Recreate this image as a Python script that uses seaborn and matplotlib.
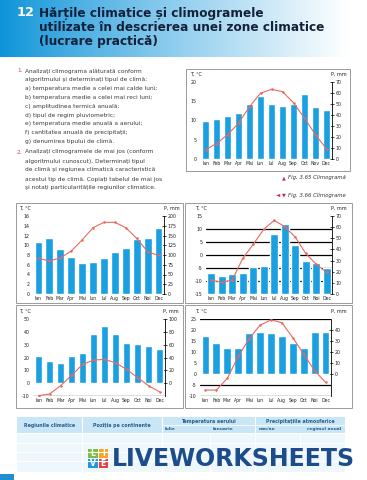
import numpy as np
import matplotlib
matplotlib.use("Agg")
import matplotlib.pyplot as plt
from matplotlib.patches import Rectangle
import seaborn as sns

sns.set_theme(style="white")
plt.rcParams['font.family'] = ['DejaVu Sans']

# ---------------- data ----------------
MONTHS_TOP = ["Ian", "Feb", "Mar", "Apr", "Mai", "Iun", "Iul", "Aug", "Sep", "Oct", "Nov", "Dec"]
MONTHS = ["Ian", "Feb", "Mar", "Apr", "Mai", "Iun", "Iul", "Aug", "Sep", "Oct", "Noi", "Dec"]

TOP_P = [35, 36.5, 39, 41.5, 50, 57, 50, 48, 50, 59, 47, 44.5]
TOP_T = [2.4, 4, 6.3, 9.3, 13.6, 17.1, 18.1, 17.5, 14.6, 10.6, 6.3, 2.6]

A_P = [134, 143, 115, 94, 79, 82, 93, 107, 119, 140, 143, 168]
A_T = [7.3, 6.8, 7.4, 8.8, 11.1, 13.6, 14.7, 14.7, 13.6, 11.4, 8.7, 7.9]

B_P = [19, 16, 18, 19, 24.5, 25, 54, 62.5, 44, 30, 27.5, 23.5]
B_T = [-9.7, -10.5, -9.6, -1.3, 4.1, 9.9, 13.3, 10.9, 6.9, 0.6, -3.6, -6.7]

C_P = [43, 34, 31.5, 43, 47, 77, 89, 77, 62.5, 61, 57.5, 53]
C_T = [-9.7, -8.5, -2, 6, 14.6, 18, 18.5, 15.9, 10.8, 4.4, -2, -6.7]

D_P = [35, 28, 23.5, 23.5, 37.3, 38.5, 37.6, 35, 28, 23.5, 38.5, 38.5]
D_T = [-7.3, -7.3, -2, 8, 16, 22.2, 24.6, 23.3, 16.5, 9, 1.5, -3.8]

TITLE_LINES = ["Hărțile climatice și climogramele",
               "utilizate în descrierea unei zone climatice",
               "(lucrare practică)"]
TASK1 = ["Analizați climograma alăturată conform",
         "algoritmului și determinați tipul de climă:",
         "a) temperatura medie a celei mai calde luni;",
         "b) temperatura medie a celei mai reci luni;",
         "c) amplitudinea termică anuală;",
         "d) tipul de regim pluviometric;",
         "e) temperatura medie anuală a aerului;",
         "f) cantitatea anuală de precipitații;",
         "g) denumirea tipului de climă."]
TASK2 = ["Analizați climogramele de mai jos (conform",
         "algoritmului cunoscut). Determinați tipul",
         "de climă și regiunea climatică caracteristică",
         "acestui tip de climă. Copiați tabelul de mai jos",
         "și notați particularitățile regiunilor climatice."]

BLUE = "#1a9fe0"
RED = "#e8695f"
W, H = 367, 480

fig = plt.figure(figsize=(W / 100, H / 100), dpi=100)
fig.patch.set_facecolor("white")

# background / page overlay in pixel coordinates
bg = fig.add_axes([0, 0, 1, 1])
bg.set_zorder(0)
n = 400
xs = np.linspace(0, 1, n)
c0 = np.array([0.05, 0.58, 0.85])
c1 = np.array([1.0, 1.0, 1.0])
t = np.clip(xs / 0.95, 0, 1) ** 0.9
grad = (c0[None, :] * (1 - t[:, None]) + c1[None, :] * t[:, None])[None, :, :]
bg.imshow(grad, extent=(0, W, 57, 0), aspect="auto", zorder=0)
bg.set_xlim(0, W)
bg.set_ylim(H, 0)
bg.axis("off")

bg.text(17, 13, "12", fontsize=9.3, fontweight="bold", color="white", va="center")
for i, line in enumerate(TITLE_LINES):
    bg.text(39, 13 + i * 14.5, line, fontsize=8.7, fontweight="bold", color="#14213a",
            va="center")

# instructions
FS = 4.2
TXT = "#3a3a3a"
PINK = "#d9415a"
y = 71
bg.text(17, y, "1.", fontsize=FS, color=PINK, va="center")
for i, line in enumerate(TASK1):
    bg.text(25, y + i * 8.8, line, fontsize=FS, color=TXT, va="center")
y = 152
bg.text(17, y, "2.", fontsize=FS, color=PINK, va="center")
for i, line in enumerate(TASK2):
    bg.text(25, y + i * 9.0, line, fontsize=FS, color=TXT, va="center")

# captions
bg.text(286, 178, "▲", fontsize=3.6, color="#d0246a", va="center", ha="right")
bg.text(288, 178, "Fig. 3.65 Climogramă", fontsize=3.9, style="italic", color="#333",
        va="center")
bg.text(280, 195, "◄", fontsize=4.0, color="#d0246a", va="center", ha="right")
bg.text(286, 195, "▼", fontsize=3.6, color="#d0246a", va="center", ha="right")
bg.text(288, 195, "Fig. 3.66 Climograme", fontsize=3.9, style="italic", color="#333",
        va="center")

# frames
FRAME = "#8a8a8a"
for (x0, y0, x1, y1) in [(186, 69, 350, 171), (16, 203, 183, 303), (185, 203, 352, 303),
                         (16, 305, 183, 408), (185, 305, 352, 408)]:
    bg.add_patch(Rectangle((x0, y0), x1 - x0, y1 - y0, fill=False, ec=FRAME, lw=0.6))

# axis unit labels
for (xl, xr, yy) in [(190, 347, 74), (19, 180, 208), (195, 347, 208), (19, 179, 311),
                     (195, 347, 311)]:
    bg.text(xl, yy, "T, °C", fontsize=3.5, color="#222", va="center")
    bg.text(xr, yy, "P, mm", fontsize=3.5, color="#222", va="center", ha="right")

# table
TB = "#c9e6f6"
bg.add_patch(Rectangle((17, 417), 328, 16, color=TB, lw=0))
for xv in [82, 162, 255]:
    bg.plot([xv, xv], [417, 433], color="white", lw=0.8)
bg.plot([162, 345], [425, 425], color="white", lw=0.6)
bg.add_patch(Rectangle((17, 434), 328, 38, color="#eef7fc", lw=0))
for yv in [443, 452, 461]:
    bg.plot([17, 345], [yv, yv], color="white", lw=0.8)
for xv in [82, 162, 210, 255, 300]:
    bg.plot([xv, xv], [434, 472], color="white", lw=0.8)
HC = "#2a5f8f"
bg.text(50, 425, "Regiunile climatice", fontsize=3.4, color=HC, ha="center", va="center",
        fontweight="bold")
bg.text(122, 425, "Poziția pe continente", fontsize=3.4, color=HC, ha="center",
        va="center", fontweight="bold")
bg.text(208, 421, "Temperatura aerului", fontsize=3.4, color=HC, ha="center",
        va="center", fontweight="bold")
bg.text(300, 421, "Precipitațiile atmosferice", fontsize=3.4, color=HC, ha="center",
        va="center", fontweight="bold")
bg.text(165, 429, "Iulie", fontsize=3.2, color=HC, va="center", fontweight="bold")
bg.text(213, 429, "Ianuarie", fontsize=3.2, color=HC, va="center", fontweight="bold")
bg.text(259, 429, "mm/an", fontsize=3.2, color=HC, va="center", fontweight="bold")
bg.text(307, 429, "regimul anual", fontsize=3.2, color=HC, va="center", fontweight="bold")

# liveworksheets logo
sq = [("L", "#7dbb42", 88, 449), ("I", "#f5a623", 98.5, 449),
      ("V", "#1e9be0", 88, 458.5), ("E", "#e8413c", 98.5, 458.5)]
for ch, col, sx, sy in sq:
    bg.add_patch(Rectangle((sx, sy), 9.5, 9, color=col, lw=0))
    bg.text(sx + 4.75, sy + 4.6, ch, fontsize=5.5, color="white", ha="center",
            va="center", fontweight="bold")
bg.text(112, 458.5, "LIVEWORKSHEETS", fontsize=17, color="#1d4c8c", va="center",
        fontweight="bold")
bg.add_patch(Rectangle((0, 474), 14, 6, color="#1e8fd0", lw=0))


def climogram(px, months, P, T, t_lim, t_ticks, p_lim, p_ticks, grid_t=None, grid_p=None):
    x0, y0, x1, y1 = px
    rect = [x0 / W, 1 - y1 / H, (x1 - x0) / W, (y1 - y0) / H]
    ax = fig.add_axes(rect)
    sns.barplot(x=months, y=P, ax=ax, color=BLUE, saturation=1, width=0.72)
    ax.set_ylim(*p_lim)
    conv = lambda tv: p_lim[0] + (tv - t_lim[0]) * (p_lim[1] - p_lim[0]) / (t_lim[1] - t_lim[0])
    gl = [conv(v) for v in grid_t] if grid_t is not None else list(grid_p)
    ax.set_yticks(p_ticks)
    ax.set_yticklabels([str(v) for v in p_ticks])
    ax.set_yticks(gl, minor=True)
    ax.set_axisbelow(True)
    ax.grid(False)
    ax.yaxis.grid(True, which="minor", color="black", linewidth=0.9, linestyle="-")
    ax.tick_params(axis="x", length=0, pad=1.5, labelsize=3.3, colors="#222")
    for s in ["top", "left", "bottom"]:
        ax.spines[s].set_visible(False)
    ax.spines["right"].set_color("black")
    ax.spines["right"].set_linewidth(0.6)
    ax.set_xlabel("")
    ax.set_ylabel("")

    ax2 = ax.twinx()
    sns.lineplot(x=np.arange(len(T)), y=T, ax=ax2, color=RED, lw=0.8, marker="o",
                 markersize=1.8, markeredgewidth=0)
    ax2.set_ylim(*t_lim)
    ax2.set_yticks(t_ticks)
    ax2.set_yticklabels([str(v) for v in t_ticks])
    ax2.yaxis.tick_left()
    ax2.tick_params(axis="y", length=0, pad=2.5, labelsize=3.4, colors="#222")
    for s in ["top", "left", "bottom", "right"]:
        ax2.spines[s].set_visible(False)
    ax2.grid(False)
    ax2.set_ylabel("")
    ax.set_zorder(2)
    ax.patch.set_visible(False)
    ax2.set_zorder(3)
    # bar axis ticks to the right (after twinx, which resets them)
    ax.yaxis.tick_right()
    ax.tick_params(axis="y", which="major", left=False, labelleft=False, right=True,
                   labelright=True, length=2.5, direction="inout", width=0.6, pad=1.2,
                   labelsize=3.4, colors="#222")
    ax.tick_params(axis="y", which="minor", left=False, right=False, length=0)
    ax.set_xlim(-0.5, len(months) - 0.5)
    return ax, ax2


climogram((200, 82, 332, 159), MONTHS_TOP, TOP_P, TOP_T, (0, 20), [0, 5, 10, 15, 20],
          (0, 70), list(range(0, 71, 10)), grid_p=list(range(0, 71, 10)))
climogram((33, 216, 164, 294), MONTHS, A_P, A_T, (0, 16), list(range(0, 17, 2)),
          (0, 200), list(range(0, 201, 25)), grid_t=list(range(0, 17, 2)))
climogram((206, 216, 332, 294), MONTHS, B_P, B_T, (-15, 15), list(range(-15, 16, 5)),
          (0, 70), list(range(0, 71, 10)), grid_t=list(range(-15, 16, 5)))
climogram((33, 319, 165, 396), MONTHS, C_P, C_T, (-10, 50), list(range(-10, 51, 10)),
          (-20, 100), list(range(0, 101, 20)), grid_t=list(range(-10, 51, 10)))
climogram((200, 319, 331, 396), MONTHS, D_P, D_T, (-10, 25), list(range(-10, 26, 5)),
          (-20, 50), list(range(0, 41, 10)), grid_t=list(range(-10, 26, 5)))

fig.savefig("out.png", dpi=100, facecolor="white")
